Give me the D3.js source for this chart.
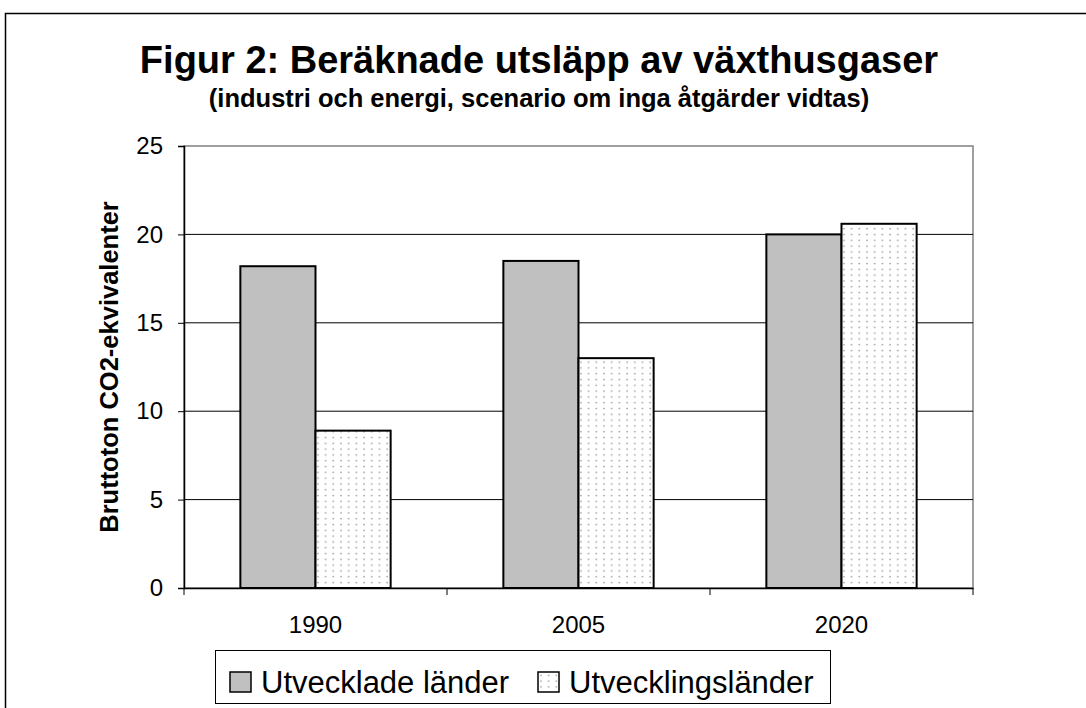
<!DOCTYPE html>
<html>
<head>
<meta charset="utf-8">
<script src="https://cdn.jsdelivr.net/npm/d3@7"></script>
<style>
  body { margin: 0; background: #fff; }
  text { font-family: "Liberation Sans", Arial, sans-serif; fill: #000; }
</style>
</head>
<body>
<div id="chart"></div>
<script>
// data
var years = ["1990", "2005", "2020"];
var seriesNames = ["Utvecklade länder", "Utvecklingsländer"];
var utvecklade = [18.2, 18.5, 20.0];
var utvecklings = [8.9, 13.0, 20.6];
var yTicks = [0, 5, 10, 15, 20, 25];

var W = 1086, H = 708;
var plot = {left: 184, right: 973, top: 146, bottom: 588};

var svg = d3.select("#chart").append("svg")
    .attr("width", W)
    .attr("height", H);

/***** dotted fill pattern ******/
var defs = svg.append("defs");
var pat = defs.append("pattern")
    .attr("id", "dots")
    .attr("patternUnits", "userSpaceOnUse")
    .attr("width", 7.7)
    .attr("height", 5.8);
pat.append("rect").attr("width", 7.7).attr("height", 5.8).attr("fill", "#fff");
pat.append("circle").attr("cx", 3).attr("cy", 2.5).attr("r", 0.9).attr("fill", "#a0a0a0");

// outer chart border
svg.append("rect")
   .attr("x", 5.5).attr("y", 13.5)
   .attr("width", 1200).attr("height", 900)
   .attr("fill", "none")
   .attr("stroke", "#000")
   .attr("stroke-width", 1.5);

/***** titles ******/
svg.append("text")
   .attr("x", 539).attr("y", 73)
   .attr("text-anchor", "middle")
   .style("font-size", "38px")
   .style("font-weight", "bold")
   .text("Figur 2: Beräknade utsläpp av växthusgaser");

svg.append("text")
   .attr("x", 539).attr("y", 107)
   .attr("text-anchor", "middle")
   .style("font-size", "25.5px")
   .style("font-weight", "bold")
   .text("(industri och energi, scenario om inga åtgärder vidtas)");

/***** scales ******/
var x = d3.scaleBand()
    .domain(years)
    .range([plot.left, plot.right])
    .padding(0);

var xSub = d3.scaleBand()
    .domain(seriesNames)
    .range([0, x.bandwidth()])
    .paddingInner(0)
    .paddingOuter(0.75);

var y = d3.scaleLinear()
    .domain([0, 25])
    .range([plot.bottom, plot.top]);

// plot frame (grey top/right)
svg.append("rect")
   .attr("x", plot.left).attr("y", y(25))
   .attr("width", plot.right - plot.left)
   .attr("height", plot.bottom - y(25))
   .attr("fill", "none")
   .attr("stroke", "#808080")
   .attr("stroke-width", 1.5);

// gridlines
svg.append("g").selectAll("line")
   .data(yTicks.filter(function(d){ return d > 0 && d < 25; }))
   .enter().append("line")
   .attr("x1", plot.left).attr("x2", plot.right)
   .attr("y1", function(d){ return y(d); })
   .attr("y2", function(d){ return y(d); })
   .attr("stroke", "#000")
   .attr("stroke-width", 1);

/***** bars ******/
var rows = years.map(function(yr, i){
    return {year: yr, vals: [utvecklade[i], utvecklings[i]]};
});

var gBar = svg.selectAll(".g-bar")
   .data(rows)
   .enter().append("g")
   .attr("class", "g-bar")
   .attr("transform", function(d){ return "translate(" + x(d.year) + ",0)"; });

gBar.selectAll("rect")
   .data(function(d){ return d.vals.map(function(v, j){ return {name: seriesNames[j], v: v}; }); })
   .enter().append("rect")
   .attr("x", function(d){ return xSub(d.name); })
   .attr("y", function(d){ return y(d.v); })
   .attr("width", xSub.bandwidth())
   .attr("height", function(d){ return y(0) - y(d.v); })
   .attr("fill", function(d, j){ return j === 0 ? "#c0c0c0" : "url(#dots)"; })
   .attr("stroke", "#000")
   .attr("stroke-width", 2);

/***** axes ******/
var yAxis = svg.append("g")
   .attr("transform", "translate(" + plot.left + ",0)")
   .call(d3.axisLeft(y).tickValues(yTicks).tickSize(6).tickPadding(15));

var xAxis = svg.append("g")
   .attr("transform", "translate(0," + plot.bottom + ")")
   .call(d3.axisBottom(x).tickSize(0).tickPadding(28));

// category boundary ticks
xAxis.selectAll(".bound")
   .data(d3.range(years.length + 1))
   .enter().append("line")
   .attr("class", "bound")
   .attr("x1", function(i){ return plot.left + i * x.step(); })
   .attr("x2", function(i){ return plot.left + i * x.step(); })
   .attr("y1", 0).attr("y2", 7)
   .attr("stroke", "#000");

svg.selectAll(".domain").attr("stroke", "#000").attr("stroke-width", 1.5);
svg.selectAll(".tick line").attr("stroke", "#000");
svg.selectAll(".tick text")
   .style("font-family", "'Liberation Sans', Arial, sans-serif")
   .style("font-size", "24px")
   .attr("fill", "#000");

// y axis title
svg.append("text")
   .attr("transform", "translate(118," + ((plot.top + plot.bottom) / 2) + ") rotate(-90)")
   .attr("text-anchor", "middle")
   .style("font-size", "25.5px")
   .style("font-weight", "bold")
   .text("Bruttoton CO2-ekvivalenter");

/***** legend ******/
var legend = svg.append("g").attr("class", "legend");
legend.append("rect")
   .attr("x", 215.5).attr("y", 650.5)
   .attr("width", 615).attr("height", 53)
   .attr("fill", "#fff")
   .attr("stroke", "#000")
   .attr("stroke-width", 1);

var legX = [230, 538];
var li = legend.selectAll(".li")
   .data(seriesNames)
   .enter().append("g")
   .attr("class", "li")
   .attr("transform", function(d, i){ return "translate(" + legX[i] + ",0)"; });

li.append("rect")
   .attr("x", 0).attr("y", 672)
   .attr("width", 21).attr("height", 20)
   .attr("fill", function(d, i){ return i === 0 ? "#c0c0c0" : "url(#dots)"; })
   .attr("stroke", "#000")
   .attr("stroke-width", 1.5);

li.append("text")
   .attr("x", 31).attr("y", 693)
   .style("font-size", "31px")
   .text(function(d){ return d; });
</script>
</body>
</html>
